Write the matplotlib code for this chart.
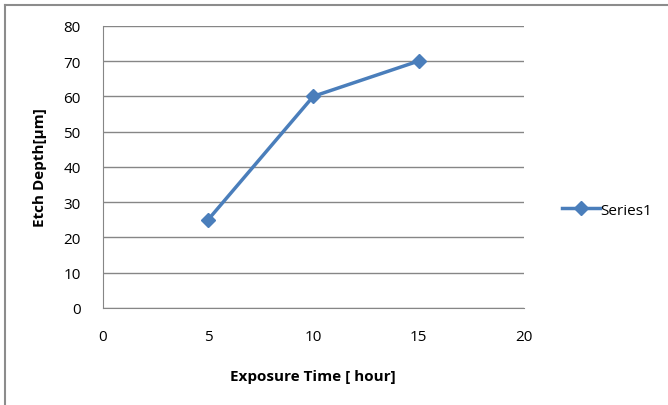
import matplotlib.pyplot as plt
from matplotlib.lines import Line2D

# data
exposure_hours = [5, 10, 15]
etch_depth_um = [25, 60, 70]
series_name = "Series1"

x_ticks = [0, 5, 10, 15, 20]
y_ticks = [0, 10, 20, 30, 40, 50, 60, 70, 80]

plt.rcParams["font.family"] = ["Open Sans", "DejaVu Sans"]

fig = plt.figure(figsize=(6.68, 4.06), dpi=100)
ax = fig.add_axes([0.154, 0.239, 0.63, 0.695])

# outer chart frame (only left and top edges visible in the crop)
fig.add_artist(Line2D([0.008, 0.008], [0, 0.985], transform=fig.transFigure,
                      color="#8c8c8c", lw=1.5))
fig.add_artist(Line2D([0.008, 1.0], [0.985, 0.985], transform=fig.transFigure,
                      color="#8c8c8c", lw=1.5))

line, = ax.plot(exposure_hours, etch_depth_um, color="#4a7ebb", lw=2.5,
                marker="D", markersize=7, label=series_name)

ax.set_xlim(0, 20)
ax.set_ylim(0, 80)
ax.set_xticks(x_ticks)
ax.set_yticks(y_ticks)
ax.grid(axis="y", color="#868686", lw=1)
ax.set_axisbelow(True)

for side in ["top", "right"]:
    ax.spines[side].set_visible(False)
ax.spines["left"].set_color("#868686")
ax.spines["bottom"].set_color("#868686")
ax.tick_params(length=0, labelsize=11, colors="#000000")
ax.tick_params(axis="y", pad=16)
ax.tick_params(axis="x", pad=15)

ax.set_xlabel("Exposure Time [ hour]", fontsize=11, fontweight="bold", labelpad=18)
ax.set_ylabel("Etch Depth[µm]", fontsize=11, fontweight="bold", labelpad=12)

fig.legend(handles=[line], loc="center left", bbox_to_anchor=(0.841, 0.48),
           frameon=False, fontsize=11, handlelength=2.5, handletextpad=0.05,
           borderpad=0, borderaxespad=0)

fig.savefig("out.png", dpi=100)
